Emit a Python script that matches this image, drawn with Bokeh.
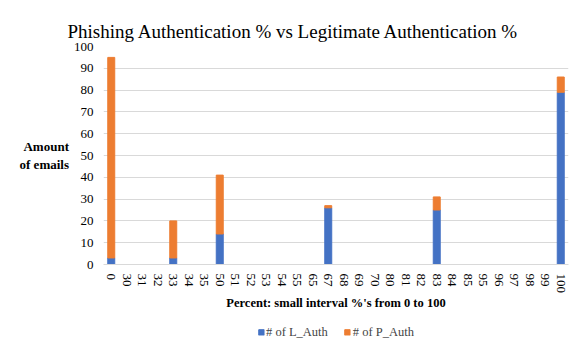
from bokeh.plotting import figure
from bokeh.models import FactorRange, Legend, LegendItem, ColumnDataSource
from bokeh.layouts import column
from bokeh.embed import file_html
from bokeh.resources import INLINE

categories = ["0", "30", "31", "32", "33", "34", "35", "50", "51", "52", "53", "54", "55", "65",
              "67", "68", "69", "70", "80", "81", "82", "83", "84", "85", "95", "96", "97", "98", "99", "100"]
l_auth = [3, 0, 0, 0, 3, 0, 0, 14, 0, 0, 0, 0, 0, 0,
          26, 0, 0, 0, 0, 0, 0, 25, 0, 0, 0, 0, 0, 0, 0, 79]
p_auth = [92, 0, 0, 0, 17, 0, 0, 27, 0, 0, 0, 0, 0, 0,
          1, 0, 0, 0, 0, 0, 0, 6, 0, 0, 0, 0, 0, 0, 0, 7]
series = ["# of L_Auth", "# of P_Auth"]
colors = ["#4472C4", "#ED7D31"]

src = ColumnDataSource(dict(cat=categories, l=l_auth, p=p_auth))

FONT = "Liberation Serif"

p = figure(x_range=FactorRange(*categories), y_range=(0, 100),
           frame_width=465, frame_height=218, output_backend="svg", toolbar_location=None,
           min_border_left=103, min_border_right=6, min_border_top=46, min_border_bottom=2)

renderers = p.vbar_stack(["l", "p"], x="cat", width=0.45, color=colors, source=src)

p.title.text = "Phishing Authentication % vs Legitimate Authentication %"
p.title.text_font = FONT
p.title.text_font_size = "19px"
p.title.text_font_style = "normal"
p.title.align = "left"
p.title.offset = -36
p.title.text_color = "#000000"

p.outline_line_color = None
p.border_fill_color = "white"

p.xgrid.grid_line_color = None
p.ygrid.grid_line_color = "#D9D9D9"
p.ygrid.grid_line_width = 1
p.yaxis.ticker = list(range(0, 101, 10))

for ax in (p.xaxis[0], p.yaxis[0]):
    ax.major_label_text_font = FONT
    ax.major_label_text_font_size = "13px"
    ax.major_label_text_color = "#000000"
    ax.major_tick_line_color = None
    ax.minor_tick_line_color = None

p.yaxis.axis_line_color = None
p.xaxis.axis_line_color = "#D9D9D9"
p.xaxis.major_label_orientation = "vertical"
p.xaxis.major_label_standoff = 3
p.x_range.range_padding = 0.0
p.x_range.factor_padding = 0.0

p.xaxis.axis_label = "Percent: small interval %'s from 0 to 100"
p.xaxis.axis_label_text_font = FONT
p.xaxis.axis_label_text_font_size = "12.5px"
p.xaxis.axis_label_text_font_style = "bold"
p.xaxis.axis_label_text_color = "#000000"
p.xaxis.axis_label_standoff = 0

p.yaxis.axis_label = "Amount\nof emails"
p.yaxis.axis_label_orientation = "horizontal"
p.yaxis.axis_label_text_font = FONT
p.yaxis.axis_label_text_font_size = "13px"
p.yaxis.axis_label_text_font_style = "bold"
p.yaxis.axis_label_text_color = "#000000"
p.yaxis.axis_label_text_align = "center"
p.yaxis.axis_label_standoff = 2
p.yaxis.major_label_standoff = 4

# Legend strip below the chart
lg = figure(width=574, height=38, output_backend="svg", toolbar_location=None,
            x_axis_type=None, y_axis_type=None, x_range=(0, 1), y_range=(0, 1),
            min_border_left=0, min_border_right=0, min_border_top=0, min_border_bottom=0)
lg.outline_line_color = None
lg.xgrid.grid_line_color = None
lg.ygrid.grid_line_color = None
lg_renderers = [lg.vbar(x=[-5], top=[-5], bottom=[-6], width=0.1,
                        fill_color=colors[i], line_color=colors[i]) for i in range(2)]
legend = Legend(items=[LegendItem(label=series[i], renderers=[lg_renderers[i]]) for i in range(2)],
                orientation="horizontal", location="center",
                label_text_font=FONT, label_text_font_size="12.5px",
                glyph_width=7, glyph_height=7, label_standoff=2, spacing=16,
                border_line_color=None, background_fill_alpha=0, padding=4, margin=0)
lg.add_layout(legend, "center")

layout = column(p, lg, spacing=0)

open("out.html", "w").write(file_html(layout, INLINE))
